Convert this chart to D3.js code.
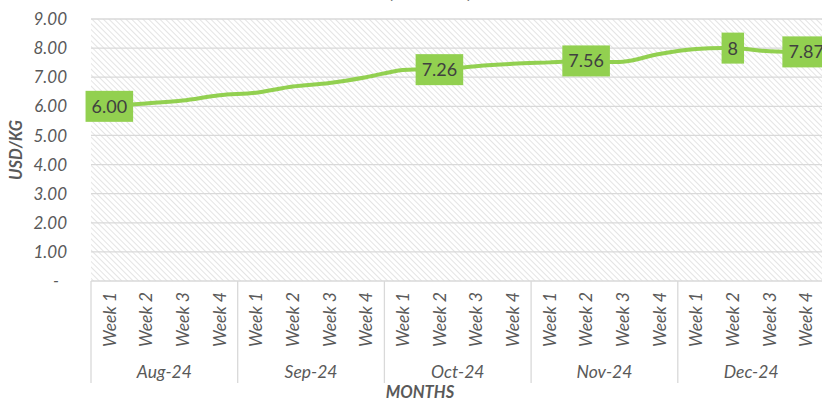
<!DOCTYPE html>
<html>
<head>
<meta charset="utf-8">
<script src="https://cdn.jsdelivr.net/npm/d3@7"></script>
<style>
  body { margin: 0; background: #fff; }
  svg { display: block; font-family: Lato, "Open Sans", sans-serif; }
</style>
</head>
<body>
<div id="chart"></div>
<script>
var months = ["Aug-24", "Sep-24", "Oct-24", "Nov-24", "Dec-24"];
var weeks = ["Week 1", "Week 2", "Week 3", "Week 4"];
var prices = [6.00, 6.10, 6.20, 6.38, 6.47, 6.68, 6.80, 7.00,
  7.25, 7.26, 7.38, 7.46, 7.51, 7.56, 7.53, 7.80,
  7.97, 8.00, 7.89, 7.87];
var labelIndex = [0, 9, 13, 17, 19];
var labelText = ["6.00", "7.26", "7.56", "8", "7.87"];
var yTicks = [0, 1, 2, 3, 4, 5, 6, 7, 8, 9];

var w = 822, h = 401;
var plotLeft = 91, plotRight = 824.5, plotTop = 19, plotBottom = 281;
var green = "#92d050", grid = "#d9d9d9", textCol = "#595959";

// one entry per week
var points = [];
months.forEach(function (m, i) {
  weeks.forEach(function (wk, j) {
    points.push({ key: m + "|" + wk, month: m, week: wk, value: prices[i * 4 + j] });
  });
});

var x = d3.scaleBand().domain(points.map(function (d) { return d.key; })).range([plotLeft, plotRight]);
var xMonth = d3.scaleBand().domain(months).range([plotLeft, plotRight]);
var y = d3.scaleLinear().domain([0, 9]).range([plotBottom, plotTop]);

var svg = d3.select("#chart").append("svg").attr("width", w).attr("height", h);

// hatch background
var defs = svg.append("defs");
var pat = defs.append("pattern")
  .attr("id", "hatch")
  .attr("patternUnits", "userSpaceOnUse")
  .attr("width", 4).attr("height", 4)
  .attr("patternTransform", "rotate(45)");
pat.append("rect").attr("width", 4).attr("height", 4).attr("fill", "#fff");
pat.append("line").attr("x1", 0).attr("y1", 0).attr("x2", 4).attr("y2", 0)
  .attr("stroke", "#d9d9d9").attr("stroke-width", 1.4);

svg.append("rect")
  .attr("x", plotLeft).attr("y", y(9))
  .attr("width", plotRight - plotLeft).attr("height", y(0) - y(9))
  .attr("fill", "url(#hatch)");

// title (cut off at top of picture)
svg.append("text")
  .attr("x", 430).attr("y", -2)
  .attr("text-anchor", "middle")
  .style("font-size", "19px").style("font-weight", "bold")
  .style("fill", textCol)
  .text("(USD/KG)");

// gridlines
svg.selectAll(".grid")
  .data(yTicks)
  .enter()
  .append("line")
  .attr("x1", plotLeft).attr("x2", plotRight)
  .attr("y1", function (d) { return y(d); })
  .attr("y2", function (d) { return y(d); })
  .attr("stroke", grid).attr("stroke-width", 1.3);

// y labels
svg.selectAll(".ylab")
  .data(yTicks)
  .enter()
  .append("text")
  .attr("x", function (d) { return d === 0 ? 59 : 67; })
  .attr("y", function (d) { return y(d); })
  .attr("dy", "0.36em")
  .attr("text-anchor", "end")
  .style("font-size", "17px").style("font-style", "italic")
  .style("fill", textCol)
  .text(function (d) { return d === 0 ? "-" : d3.format(".2f")(d); });

svg.append("text")
  .attr("transform", "translate(22," + ((plotTop + plotBottom) / 2) + ") rotate(-90)")
  .attr("text-anchor", "middle")
  .style("font-size", "16.5px").style("font-weight", "bold").style("font-style", "italic")
  .style("fill", textCol)
  .text("USD/KG");

// x axis: month separators
var seps = months.map(function (m) { return xMonth(m); }).concat([plotRight]);
svg.selectAll(".sep")
  .data(seps)
  .enter()
  .append("line")
  .attr("x1", function (d) { return d; }).attr("x2", function (d) { return d; })
  .attr("y1", plotBottom).attr("y2", 383)
  .attr("stroke", grid).attr("stroke-width", 1.3);

svg.selectAll(".wlab")
  .data(points)
  .enter()
  .append("text")
  .attr("transform", function (d) {
    return "translate(" + (x(d.key) + x.bandwidth() / 2) + ",292) rotate(-90)";
  })
  .attr("dy", "0.36em")
  .attr("text-anchor", "end")
  .style("font-size", "17.5px").style("font-style", "italic")
  .style("fill", textCol)
  .text(function (d) { return d.week; });

svg.selectAll(".mlab")
  .data(months)
  .enter()
  .append("text")
  .attr("x", function (d) { return xMonth(d) + xMonth.bandwidth() / 2; })
  .attr("y", 378)
  .attr("text-anchor", "middle")
  .style("font-size", "17.5px").style("font-style", "italic")
  .style("fill", textCol)
  .text(function (d) { return d; });

svg.append("text")
  .attr("x", 420).attr("y", 398)
  .attr("text-anchor", "middle")
  .style("font-size", "16.5px").style("font-weight", "bold").style("font-style", "italic")
  .style("fill", textCol)
  .text("MONTHS");

// line
var line = d3.line()
  .x(function (d) { return x(d.key) + x.bandwidth() / 2; })
  .y(function (d) { return y(d.value); })
  .curve(d3.curveCatmullRom.alpha(0.5));

svg.append("path")
  .datum(points)
  .attr("d", line)
  .attr("fill", "none")
  .attr("stroke", green)
  .attr("stroke-width", 4)
  .attr("stroke-linejoin", "round");

// data labels
var labels = svg.selectAll(".dlab")
  .data(labelIndex)
  .enter()
  .append("g")
  .attr("transform", function (d) {
    var p = points[d];
    return "translate(" + (x(p.key) + x.bandwidth() / 2) + "," + y(p.value) + ")";
  });

labels.append("text")
  .attr("text-anchor", "middle")
  .attr("dy", "0.36em")
  .style("font-size", "18px")
  .style("fill", "#404040")
  .text(function (d, i) { return labelText[i]; })
  .each(function () {
    var b = this.getBBox();
    d3.select(this.parentNode).insert("rect", "text")
      .attr("x", b.x - 6).attr("y", -15.5)
      .attr("width", b.width + 12).attr("height", 31)
      .attr("fill", green);
  });
</script>
</body>
</html>
